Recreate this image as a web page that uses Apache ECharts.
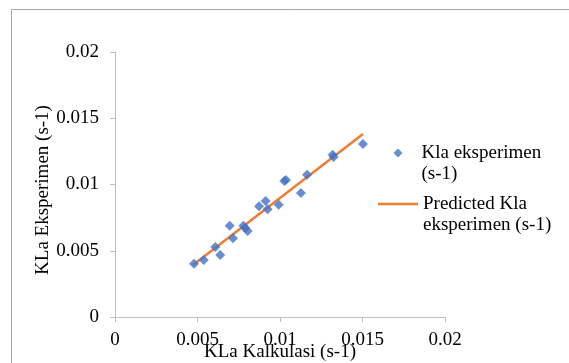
<!DOCTYPE html>
<html><head><meta charset="utf-8">
<script src="https://cdn.jsdelivr.net/npm/echarts@6/dist/echarts.min.js"></script>
<style>html,body{margin:0;padding:0;background:#fff;}#c{width:569px;height:363px;}</style>
</head><body><div id="c"></div>
<script>
// Measured data (KLa Kalkulasi, KLa Eksperimen)
const kalkulasi = [0.00479,0.00538,0.00608,0.00638,0.00695,0.00715,0.00778,0.00790,0.00804,0.00873,0.00913,0.00925,0.00992,0.01026,0.01036,0.01127,0.01164,0.01319,0.01325,0.01503];
const eksperimen = [0.00402,0.00430,0.00528,0.00468,0.00689,0.00594,0.00689,0.00669,0.00649,0.00835,0.00875,0.00813,0.00848,0.01026,0.01034,0.00936,0.01074,0.01225,0.01208,0.01306];
// Predicted line endpoints
const predX = [0.00473, 0.01503];
const predY = [0.00392, 0.01381];
const xTicks = [0, 0.005, 0.01, 0.015, 0.02];
const yTicks = [0, 0.005, 0.01, 0.015, 0.02];

const scatterData = kalkulasi.map((x,i)=>[x, eksperimen[i]]);
const lineData = predX.map((x,i)=>[x, predY[i]]);
const font = 'Liberation Serif, Times New Roman, serif';
const fs = 19;
const chart = echarts.init(document.getElementById('c'));
chart.setOption({
  animation:false,
  textStyle:{fontFamily:font},
  graphic:[{type:'rect',shape:{x:11.5,y:9.5,width:700,height:500},style:{fill:'none',stroke:'#A6A6A6',lineWidth:1},silent:true}],
  grid:{left:115,right:124,top:52,bottom:46,outerBoundsMode:'none',containLabel:false},
  xAxis:{type:'value',min:xTicks[0],max:xTicks[xTicks.length-1],interval:xTicks[1]-xTicks[0],
    name:'KLa Kalkulasi (s-1)',nameLocation:'middle',nameGap:26,nameMoveOverlap:false,
    nameTextStyle:{fontFamily:font,fontSize:fs,color:'#000'},
    axisLine:{show:true,lineStyle:{color:'#BFBFBF',width:1}},
    axisTick:{show:true,length:5,lineStyle:{color:'#BFBFBF'}},
    splitLine:{show:false},
    axisLabel:{fontFamily:font,fontSize:fs,color:'#000',margin:14,formatter:v=>String(+v.toFixed(3))}},
  yAxis:{type:'value',min:yTicks[0],max:yTicks[yTicks.length-1],interval:yTicks[1]-yTicks[0],
    name:'KLa Eksperimen (s-1)',nameLocation:'middle',nameGap:62,nameRotate:90,nameMoveOverlap:false,
    nameTextStyle:{fontFamily:font,fontSize:fs,color:'#000',padding:[0,11,0,0]},
    axisLine:{show:true,lineStyle:{color:'#BFBFBF',width:1}},
    axisTick:{show:true,length:5,lineStyle:{color:'#BFBFBF'}},
    splitLine:{show:false},
    axisLabel:{fontFamily:font,fontSize:fs,color:'#000',margin:16,formatter:v=>String(+v.toFixed(3))}},
  legend:[
    {data:['Kla eksperimen\n(s-1)'],orient:'vertical',left:393.5,top:121.5,padding:0,
     icon:'diamond',itemWidth:9,itemHeight:9,formatter:n=>'\n'+n,
     textStyle:{fontFamily:font,fontSize:fs,color:'#000',lineHeight:21,padding:[0,0,0,14]}},
    {data:['Predicted Kla\neksperimen (s-1)'],orient:'vertical',left:378,top:172.5,padding:0,
     icon:'rect',itemWidth:40,itemHeight:2.5,formatter:n=>'\n'+n,
     textStyle:{fontFamily:font,fontSize:fs,color:'#000',lineHeight:21}}
  ],
  series:[
    {name:'Kla eksperimen\n(s-1)',type:'scatter',data:scatterData,symbol:'diamond',symbolSize:10,
     itemStyle:{color:'#4472C4'},z:3},
    {name:'Predicted Kla\neksperimen (s-1)',type:'line',data:lineData,symbol:'none',
     lineStyle:{color:'#ED7D31',width:2.5},itemStyle:{color:'#ED7D31'},z:2}
  ]
});
</script></body></html>
